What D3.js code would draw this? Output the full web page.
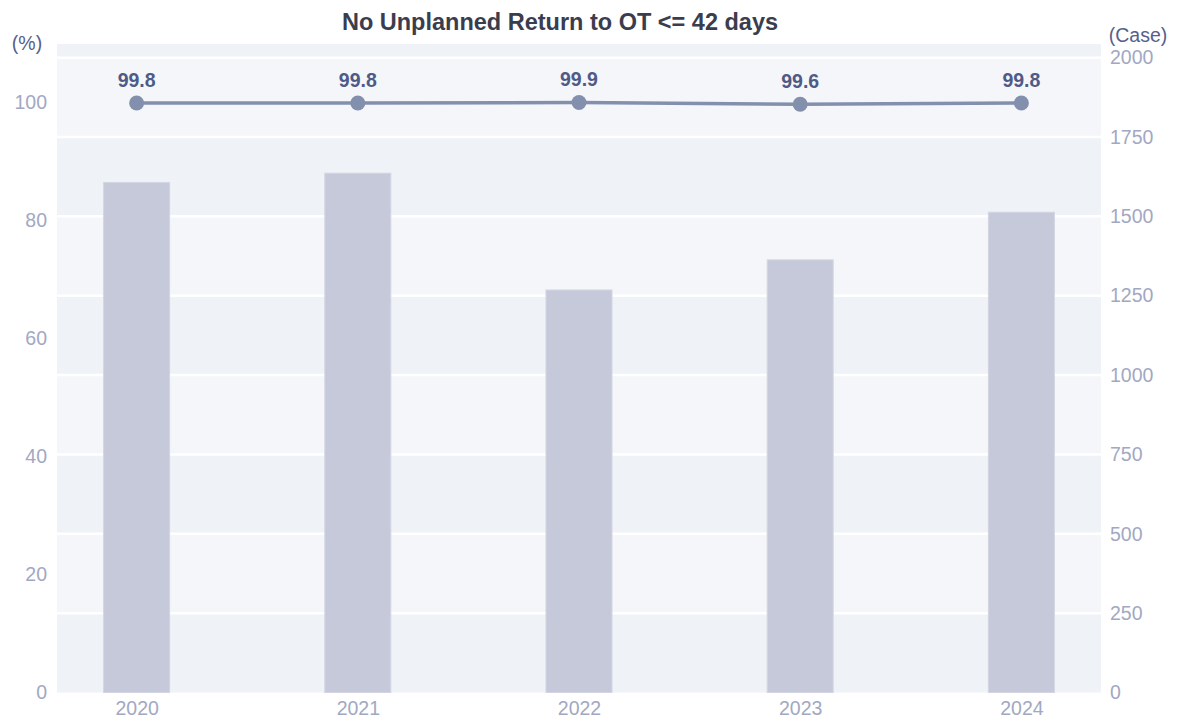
<!DOCTYPE html>
<html>
<head>
<meta charset="utf-8">
<script src="https://cdn.jsdelivr.net/npm/d3@7"></script>
<style>
  html, body { margin: 0; padding: 0; background: #ffffff; }
  svg { display: block; font-family: "Liberation Sans", Arial, sans-serif; }
</style>
</head>
<body>
<svg id="chart" width="1181" height="722"></svg>
<script>
// Chart data
const years = ["2020", "2021", "2022", "2023", "2024"];
const cases = [1607, 1636, 1268, 1363, 1513];
const rates = [99.8, 99.8, 99.9, 99.6, 99.8];
const rateTicks = [0, 20, 40, 60, 80, 100];
const caseTicks = [0, 250, 500, 750, 1000, 1250, 1500, 1750, 2000];
const titleText = "No Unplanned Return to OT <= 42 days";

const svg = d3.select("#chart");
const m = { left: 57, right: 1101, top: 44, bottom: 692.5 };

const x = d3.scalePoint().domain(years).range([m.left, m.right]).padding(0.36);
const yRate = d3.scaleLinear().domain([0, 109.8]).range([m.bottom, m.top]);
const yCase = d3.scaleLinear().domain([0, 2043]).range([m.bottom, m.top]);

const tickColor = "#a2a8c2";
const darkBand = "#eff2f7";
const lightBand = "#f5f6fa";
const tickSize = 19.5;

// Alternating background bands between the case gridlines
const edges = caseTicks.concat([yCase.domain()[1]]);
const bands = d3.pairs(edges);
svg.append("g").selectAll("rect").data(bands).join("rect")
  .attr("x", m.left)
  .attr("width", m.right - m.left)
  .attr("y", d => yCase(d[1]))
  .attr("height", d => yCase(d[0]) - yCase(d[1]))
  .attr("fill", (d, i) => i % 2 === 0 ? darkBand : lightBand);

// White gridlines on the case ticks
svg.append("g").selectAll("line").data(caseTicks.filter(t => t > 0)).join("line")
  .attr("x1", m.left).attr("x2", m.right)
  .attr("y1", d => yCase(d)).attr("y2", d => yCase(d))
  .attr("stroke", "#ffffff").attr("stroke-width", 2.5);

// Case bars
const barW = 66;
svg.append("g").selectAll("rect").data(years).join("rect")
  .attr("x", d => x(d) - barW / 2)
  .attr("width", barW)
  .attr("y", (d, i) => yCase(cases[i]))
  .attr("height", (d, i) => yCase(0) - yCase(cases[i]))
  .attr("fill", "#c5c9d9")
  .attr("stroke", "#d3d6e2")
  .attr("stroke-width", 1);

// Rate line with markers
const line = d3.line().x((d, i) => x(years[i])).y(d => yRate(d));
svg.append("path").datum(rates)
  .attr("d", line)
  .attr("fill", "none")
  .attr("stroke", "#8390ad")
  .attr("stroke-width", 3.5);
svg.append("g").selectAll("circle").data(rates).join("circle")
  .attr("cx", (d, i) => x(years[i]))
  .attr("cy", d => yRate(d))
  .attr("r", 7.5)
  .attr("fill", "#8390ad");
svg.append("g").selectAll("text").data(rates).join("text")
  .attr("x", (d, i) => x(years[i]))
  .attr("y", d => yRate(d) - 16)
  .attr("text-anchor", "middle")
  .attr("font-size", 19.5)
  .attr("font-weight", "bold")
  .attr("fill", "#4f5a86")
  .text(d => d.toFixed(1));

// Left axis (%)
const leftAxis = d3.axisLeft(yRate).tickValues(rateTicks).tickSize(0).tickPadding(10);
const gl = svg.append("g").attr("transform", `translate(${m.left},0)`).call(leftAxis);
gl.select(".domain").remove();
gl.selectAll("text").attr("font-size", tickSize).attr("fill", tickColor)
  .attr("font-family", "Liberation Sans, Arial, sans-serif");

// Right axis (Case)
const rightAxis = d3.axisRight(yCase).tickValues(caseTicks).tickFormat(d3.format("d"))
  .tickSize(0).tickPadding(9);
const gr = svg.append("g").attr("transform", `translate(${m.right},0)`).call(rightAxis);
gr.select(".domain").remove();
gr.selectAll("text").attr("font-size", tickSize).attr("fill", tickColor)
  .attr("font-family", "Liberation Sans, Arial, sans-serif");

// Category axis
const bottomAxis = d3.axisBottom(x).tickSize(0).tickPadding(9);
const gb = svg.append("g").attr("transform", `translate(0,${m.bottom})`).call(bottomAxis);
gb.select(".domain").remove();
gb.selectAll("text").attr("font-size", tickSize).attr("fill", tickColor)
  .attr("font-family", "Liberation Sans, Arial, sans-serif");

// Axis titles
svg.append("text").attr("x", 27).attr("y", 50).attr("text-anchor", "middle")
  .attr("font-size", 19.5).attr("fill", "#56608c").text("(%)");
svg.append("text").attr("x", 1138).attr("y", 42).attr("text-anchor", "middle")
  .attr("font-size", 19.5).attr("fill", "#56608c").text("(Case)");

// Title
svg.append("text").attr("x", 560).attr("y", 30).attr("text-anchor", "middle")
  .attr("font-size", 23.5).attr("font-weight", "bold").attr("fill", "#3a3d4e")
  .text(titleText);
</script>
</body>
</html>
